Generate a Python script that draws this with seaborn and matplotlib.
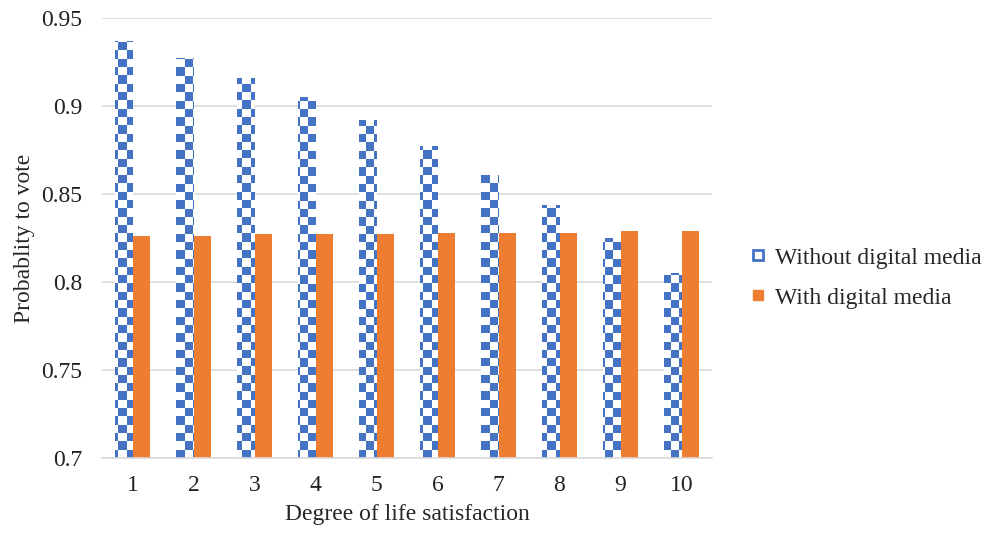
import numpy as np
import pandas as pd
import matplotlib
matplotlib.use("Agg")
import matplotlib.pyplot as plt
from matplotlib.colors import ListedColormap
from matplotlib.patches import Patch
import seaborn as sns

# Veriler
levels = ["1", "2", "3", "4", "5", "6", "7", "8", "9", "10"]
without_media = [0.937, 0.927, 0.916, 0.905, 0.892, 0.877, 0.861, 0.844, 0.825, 0.805]
with_media = [0.826, 0.826, 0.827, 0.827, 0.827, 0.828, 0.828, 0.828, 0.829, 0.829]
series = ["Without digital media", "With digital media"]

blue = "#4472C4"
orange = "#ED7D31"

df = pd.DataFrame({
    "level": levels * 2,
    "prob": without_media + with_media,
    "series": [series[0]] * len(levels) + [series[1]] * len(levels),
})

sns.set_style("white")
plt.rcParams["font.family"] = ["Liberation Serif", "DejaVu Serif"]

fig = plt.figure(figsize=(9.9, 5.36), dpi=100)
ax = fig.add_axes([102 / 990, 78 / 536, 610 / 990, 440 / 536])

sns.barplot(data=df, x="level", y="prob", hue="series", order=levels,
            hue_order=series, palette=[blue, orange], width=0.57,
            legend=False, ax=ax, saturation=1, edgecolor="none")

# Dama deseni: mavi çubuklar için
nx, ny = 74, 53
checker = (np.add.outer(np.arange(ny), np.arange(nx)) % 2).astype(float)
cmap = ListedColormap(["white", blue])
blue_bars = ax.patches[:len(levels)]
for bar in blue_bars:
    bar.set_facecolor("none")
    im = ax.imshow(checker, extent=(-0.5, len(levels) - 0.5, 0.7, 0.95),
                   cmap=cmap, interpolation="nearest", aspect="auto",
                   origin="lower", zorder=2)
    im.set_clip_path(bar)

ax.set_ylim(0.7, 0.95)
ax.set_xlim(-0.5, len(levels) - 0.5)
ax.set_yticks([0.7, 0.75, 0.8, 0.85, 0.9, 0.95])
ax.set_yticklabels(["0.7", "0.75", "0.8", "0.85", "0.9", "0.95"])

ax.yaxis.grid(True, color="#d9d9d9", linewidth=1.2)
ax.set_axisbelow(True)
for s in ["top", "right", "left"]:
    ax.spines[s].set_visible(False)
ax.spines["bottom"].set_color("#d9d9d9")
ax.spines["bottom"].set_linewidth(1.2)
ax.tick_params(axis="both", length=0, labelsize=17, colors="#222222")
ax.tick_params(axis="y", pad=14)
ax.tick_params(axis="x", pad=12)

ax.set_xlabel("Degree of life satisfaction", fontsize=17, labelpad=6)
ax.set_ylabel("Probablity to vote", fontsize=17, labelpad=5)

handles = [Patch(facecolor="white", edgecolor=blue, linewidth=2.0, label=series[0]),
           Patch(facecolor=orange, edgecolor=orange, label=series[1])]
fig.legend(handles=handles, loc="center left", bbox_to_anchor=(0.739, 0.481),
           frameon=False, fontsize=17, handlelength=0.42, handleheight=0.30,
           handletextpad=0.5, labelspacing=0.8)

fig.savefig("out.png", dpi=100)
